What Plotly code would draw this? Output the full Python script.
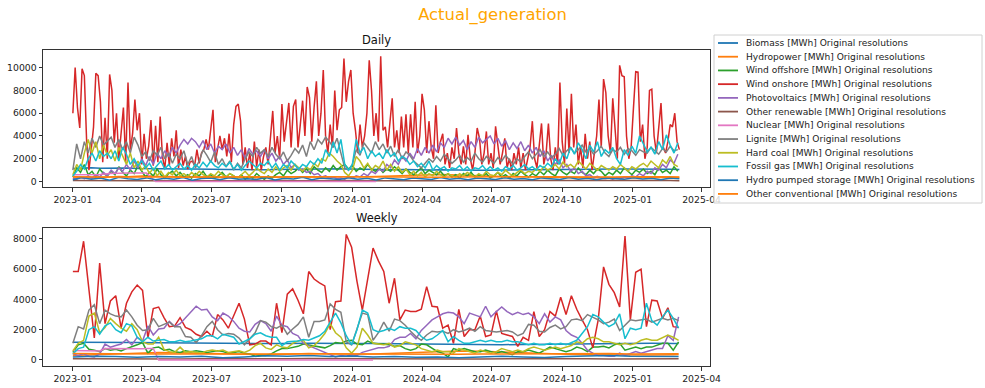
import pandas as pd
import plotly.graph_objects as go
from plotly.subplots import make_subplots

# ---------------- series names / colours ----------------
names = [
    "Biomass [MWh] Original resolutions",
    "Hydropower [MWh] Original resolutions",
    "Wind offshore [MWh] Original resolutions",
    "Wind onshore [MWh] Original resolutions",
    "Photovoltaics [MWh] Original resolutions",
    "Other renewable [MWh] Original resolutions",
    "Nuclear [MWh] Original resolutions",
    "Lignite [MWh] Original resolutions",
    "Hard coal [MWh] Original resolutions",
    "Fossil gas [MWh] Original resolutions",
    "Hydro pumped storage [MWh] Original resolutions",
    "Other conventional [MWh] Original resolutions",
]
colors = ["#1f77b4", "#ff7f0e", "#2ca02c", "#d62728", "#9467bd", "#8c564b",
          "#e377c2", "#7f7f7f", "#bcbd22", "#17becf", "#1f77b4", "#ff7f0e"]

tick_dates = ["2023-01-01", "2023-04-01", "2023-07-01", "2023-10-01", "2024-01-01",
              "2024-04-01", "2024-07-01", "2024-10-01", "2025-01-01", "2025-04-01"]

daily_dates = pd.date_range("2023-01-01", "2025-03-03", freq="D")
weekly_dates = pd.date_range("2023-01-01", periods=114, freq="7D")

# ---------------- DAILY values ----------------
# Wind onshore, every 3rd day
d_wind_on = [
    6000, 10000, 6500, 4700, 9900, 9300, 3500, 1000, 2800, 4800,
    9500, 9300, 7000, 1700, 5600, 2000, 9400, 8000, 3400, 6000,
    2000, 4000, 6500, 1700, 8700, 2800, 4200, 7200, 4500, 6000,
    1500, 4200, 2000, 3100, 5400, 1400, 4900, 1700, 5700, 2200,
    1100, 3400, 1400, 3800, 2200, 4500, 1200, 2800, 1400, 2200,
    1100, 1700, 1800, 1400, 2800, 1600, 2500, 2800, 3700, 2800,
    4800, 6300, 1700, 2800, 4000, 2800, 3800, 2200, 4200, 1700,
    5000, 6600, 6800, 5300, 1500, 3000, 1200, 2500, 1000, 3500,
    1300, 2800, 1000, 2200, 3000, 1500, 4000, 6200, 2500, 4000,
    2000, 6800, 3500, 5500, 6900, 3000, 6600, 7200, 3000, 5000,
    7100, 4000, 8300, 7400, 3500, 6500, 8800, 4000, 6000, 9800,
    4000, 2500, 5000, 3000, 8000, 4500, 6300, 6500, 10800, 7000,
    8800, 9800, 6000, 4500, 2500, 5000, 3000, 4000, 6000, 10650,
    8000, 4000, 6000, 3500, 11000, 4500, 4800, 3000, 5500, 7300,
    3000, 4500, 2500, 5700, 3000, 5900, 2500, 5900, 3000, 7000,
    2500, 4000, 7700, 6300, 2500, 5300, 3000, 2000, 6700, 2500,
    3500, 4200, 1500, 2500, 1200, 3000, 2000, 4700, 2500, 1500,
    3100, 1500, 4100, 2000, 1000, 2500, 4700, 3800, 1500, 2500,
    4400, 1500, 2500, 1200, 4850, 3400, 1500, 2500, 3800, 1200,
    2000, 1000, 2500, 1500, 3000, 1200, 2500, 1000, 2000, 3000,
    5300, 2000, 1200, 3000, 5100, 1500, 2500, 5100, 2000, 1000,
    3000, 1500, 8700, 3500, 1500, 6400, 2500, 7700, 3000, 5000,
    1500, 3000, 1200, 4200, 2000, 3500, 1000, 2500, 4000, 7200,
    3000, 9000, 7800, 4000, 2500, 7300, 4500, 2000, 10200, 9300,
    9200, 4000, 2000, 3000, 6400, 9650, 9600, 3500, 5000, 2000,
    3000, 8000, 8100, 4000, 2500, 4500, 6900, 3000, 2500, 3500,
    5000, 4800, 6000, 3500, 2800,
]
# every 5th day
d_pv = [
    300, 200, 400, 250, 500, 300, 600, 400, 800, 500,
    1000, 700, 1200, 900, 1500, 1000, 1800, 1200, 2000, 1400,
    2200, 1500, 2500, 2000, 2700, 2200, 3000, 2500, 3200, 3700,
    3300, 3800, 3500, 3000, 3600, 2800, 3300, 2500, 3100, 2800,
    3300, 2500, 3000, 2300, 2800, 2000, 2900, 2400, 2700, 2200,
    2800, 2000, 2500, 1800, 2200, 1500, 1900, 1200, 1500, 1000,
    1100, 800, 900, 600, 700, 400, 500, 300, 400, 250,
    300, 200, 400, 300, 500, 400, 700, 500, 900, 700,
    1100, 900, 1500, 1200, 1900, 1500, 2200, 1800, 2500, 2000,
    2900, 2300, 3000, 2500, 3200, 2600, 3400, 3000, 3800, 3300,
    3900, 3200, 3600, 2800, 3500, 3000, 3900, 3400, 3700, 4000,
    3300, 3800, 3100, 3600, 2800, 3400, 2900, 3500, 2700, 3200,
    2500, 3000, 2200, 2700, 1800, 2300, 1500, 1900, 1200, 1500,
    900, 1200, 700, 900, 500, 600, 350, 450, 300, 250,
    300, 200, 350, 250, 400, 300, 500, 400, 700, 500,
    900, 700, 1200, 1000, 1500, 1200, 1900, 1600, 2400,
]
d_lignite = [
    1000, 3300, 2000, 3500, 2500, 3800, 3000, 4000, 3200, 3600,
    3900, 3000, 3700, 2800, 3500, 2500, 3900, 3200, 2200, 2600,
    1800, 2700, 2300, 3000, 2000, 2500, 1600, 2400, 2000, 2700,
    1500, 2200, 1200, 1800, 2800, 2300, 1700, 2600, 1500, 2000,
    1300, 1800, 1000, 1600, 1200, 2000, 2600, 2200, 3000, 2500,
    2800, 2200, 3000, 2400, 2000, 2600, 1800, 2300, 2900, 2500,
    3200, 2200, 3500, 2800, 3700, 3300, 3900, 3500, 3000, 3800,
    2500, 1200, 1000, 1500, 2800, 2300, 3400, 3000, 2500, 3500,
    2800, 3300, 2500, 3100, 2200, 2800, 2000, 2600, 2300, 1800,
    1500, 1200, 1600, 2000, 1700, 2200, 1800, 2400, 2000, 1600,
    1900, 2300, 1700, 2100, 1800, 2500, 2000, 1700, 2200, 1900,
    1600, 2100, 1800, 2300, 1900, 1500, 2000, 1700, 2200, 2600,
    2000, 2400, 2800, 2200, 2600, 2100, 2400, 2900, 2300, 2700,
    3000, 2500, 2800, 3200, 2600, 2900, 2400, 2700, 3100, 2500,
    2200, 2800, 2600, 3000, 2400, 2900, 2700, 2300, 2800, 2600,
    2500, 3000, 2700, 2400, 2900, 2600, 3100, 2700, 2800,
]
d_gas = [
    500, 900, 1500, 1100, 2000, 2500, 1800, 2700, 2200, 2500,
    2000, 2700, 1800, 3000, 2400, 1500, 2000, 1400, 1800, 1200,
    1600, 1000, 1400, 1800, 1100, 1500, 1000, 1300, 1600, 1100,
    1400, 1000, 1500, 1200, 1700, 1300, 1800, 1400, 1200, 1600,
    1300, 1700, 1100, 1500, 1000, 1400, 1800, 1500, 1200, 1600,
    1400, 1800, 1200, 1600, 1000, 1500, 1200, 1800, 1400, 1100,
    1500, 1300, 1800, 1500, 2000, 1600, 2800, 2200, 3500, 2500,
    3700, 1500, 1000, 1500, 3700, 2500, 3000, 2000, 2700, 2200,
    2500, 2000, 2800, 2200, 2500, 1800, 2200, 2000, 1500, 1800,
    1300, 1600, 1200, 1800, 1000, 1400, 1100, 1300, 900, 1200,
    1100, 1400, 1000, 1300, 900, 1200, 1100, 1400, 1000, 1300,
    1000, 1200, 900, 1300, 1100, 1400, 1000, 1200, 1500, 1100,
    1300, 1000, 1400, 1200, 1600, 1300, 2000, 1500, 2500, 2000,
    3000, 2400, 3400, 2800, 2000, 3200, 2600, 3500, 2200, 2800,
    2500, 3000, 2000, 1500, 2800, 2300, 3100, 2500, 4000, 3300,
    2600, 3000, 2400, 3500, 2800, 4100, 3200, 2500, 3400,
]
d_coal = [
    600, 1500, 1000, 2500, 3700, 2500, 3500, 2000, 3200, 2300,
    2800, 1800, 3000, 2200, 1500, 2500, 1200, 1800, 1000, 1400,
    700, 1200, 500, 900, 400, 800, 600, 1000, 500, 700,
    400, 800, 500, 900, 600, 400, 700, 500, 900, 600,
    400, 700, 500, 300, 600, 900, 500, 800, 1200, 900,
    700, 1100, 800, 1300, 900, 1200, 1400, 1000, 1500, 1200,
    900, 1300, 1000, 1600, 1300, 2000, 1800, 2500, 2200, 1800,
    1500, 800, 500, 1000, 2200, 1800, 1200, 1600, 1000, 1400,
    1200, 1800, 1000, 1500, 900, 1300, 800, 1100, 600, 900,
    500, 800, 400, 700, 500, 900, 600, 400, 700, 500,
    400, 700, 500, 800, 600, 400, 700, 500, 900, 600,
    500, 800, 600, 1000, 700, 500, 800, 1000, 700, 900,
    800, 1100, 900, 1300, 1000, 1200, 1500, 1100, 1700, 1300,
    1500, 1200, 1800, 1400, 1100, 1600, 1300, 1000, 1400, 1200,
    1000, 1300, 1100, 1500, 1200, 900, 1300, 1100, 1400, 1600,
    1300, 1800, 1500, 1200, 1900, 1600, 2200, 1500, 1300,
]
d_wind_off = [
    400, 1200, 800, 1500, 600, 900, 400, 1100, 700, 500,
    900, 600, 1300, 800, 500, 1000, 700, 1400, 900, 400,
    800, 500, 1100, 600, 300, 700, 900, 500, 800, 400,
    600, 300, 700, 500, 900, 400, 600, 300, 500, 800,
    400, 700, 500, 300, 600, 200, 500, 300, 700, 400,
    200, 500, 300, 600, 800, 500, 1000, 700, 900, 1200,
    800, 1100, 700, 1300, 1000, 800, 1200, 900, 1400, 1000,
    1300, 1500, 1100, 1400, 900, 1200, 1000, 1500, 1100, 900,
    1200, 800, 1100, 900, 1300, 1000, 700, 1100, 800, 600,
    900, 1200, 700, 1000, 800, 600, 900, 500, 700, 400,
    600, 300, 700, 500, 800, 400, 600, 500, 700, 300,
    500, 800, 400, 600, 300, 700, 500, 900, 600, 400,
    700, 500, 900, 600, 1000, 700, 500, 1100, 800, 600,
    900, 700, 1200, 800, 600, 1000, 700, 1100, 900, 500,
    800, 600, 1000, 700, 1200, 900, 600, 1000, 800, 1100,
    700, 900, 600, 1200, 800, 1000, 700, 1300, 900,
]
# every 12th day
d_biomass = [
    1150, 1180, 1200, 1170, 1190, 1160, 1180, 1150, 1130, 1150,
    1120, 1100, 1090, 1110, 1080, 1060, 1070, 1050, 1060, 1040,
    1050, 1030, 1060, 1040, 1070, 1080, 1100, 1090, 1110, 1120,
    1100, 1080, 1060, 1070, 1050, 1040, 1060, 1030, 1040, 1020,
    1030, 1010, 1000, 1020, 990, 1000, 1010, 990, 1020, 1030,
    1050, 1060, 1080, 1100, 1110, 1090, 1100, 1120, 1110, 1100,
    1090, 1100, 1080, 1090, 1070, 1080, 1060,
]
d_hydro = [
    300, 350, 320, 380, 400, 450, 420, 480, 500, 460,
    440, 420, 400, 380, 360, 380, 350, 370, 340, 360,
    330, 350, 380, 400, 420, 380, 400, 420, 450, 430,
    410, 400, 420, 450, 480, 500, 520, 560, 600, 580,
    620, 600, 560, 540, 500, 480, 460, 440, 420, 400,
    380, 360, 340, 330, 320, 340, 330, 320, 340, 350,
    330, 340, 350, 360, 340, 350, 360,
]
d_other_ren = [
    80, 70, 90, 70, 60, 80, 70, 60, 70, 80,
    70, 60, 70, 80, 70, 60, 70, 80, 90, 80,
    70, 80, 90, 80, 70, 80, 90, 100, 90, 80,
    90, 80, 70, 80, 70, 60, 70, 60, 70, 60,
    70, 60, 70, 60, 70, 80, 70, 80, 90, 80,
    90, 80, 90, 100, 90, 80, 90, 80, 90, 80,
    90, 80, 70, 80, 90, 80, 70,
]
d_nuclear = [
    600, 620, 600, 610, 700, 750, 760, 750, 740, 0,
    0, 0, 0, 0, 0, 0, 0, 0, 0, 0,
    0, 0, 0, 0, 0, 0, 0, 0, 0, 0,
    0, 0, 0, 0,
]
d_pumped = [
    150, 350, 200, 300, 120, 380, 250, 180, 320, 150,
    280, 200, 350, 120, 260, 300, 150, 330, 200, 250,
    180, 350, 130, 280, 220, 380, 160, 300, 250, 170,
    340, 200, 280, 140, 320, 220, 150, 300, 260, 180,
    350, 200, 280, 150, 300, 230, 170, 330, 210, 260,
    150, 320, 240, 180, 360, 210, 280, 160, 300, 230,
    190, 340, 220, 280, 150, 310, 240,
]
d_other_conv = [
    420, 400, 430, 410, 390, 400, 380, 400, 410, 390,
    400, 410, 380, 390, 400, 420, 410, 400, 390, 400,
    410, 420, 400, 430, 410, 420, 430, 410, 400, 420,
    430, 410, 400, 390, 380, 400, 390, 380, 400, 390,
    380, 390, 400, 380, 390, 400, 410, 400, 420, 410,
    430, 420, 410, 400, 420, 410, 400, 420, 410, 400,
    410, 420, 400, 410, 420, 410, 400,
]

# ---------------- WEEKLY values ----------------
w_wind_on = [
    5850, 5850, 7850, 4500, 1450, 6400, 2400, 3900, 4250, 2100,
    3750, 4500, 4950, 4600, 1450, 3400, 3500, 2800, 2200, 2250,
    2800, 2150, 2000, 1700, 1550, 1900, 1550, 3000, 2650, 2100,
    2950, 3750, 2700, 1000, 1050, 1250, 1250, 1000, 3750, 1800,
    4350, 4700, 3950, 3050, 5850, 5350, 5100, 4900, 2000, 3850,
    3900, 8300, 7450, 5200, 3300, 5400, 7400, 6550, 5850, 3750,
    5400, 2650, 3300, 3200, 3200, 3350, 4850, 3550, 3500, 2100,
    2300, 1100, 3350, 1550, 2000, 2000, 2900, 1550, 1650, 3250,
    1750, 1650, 1550, 900, 1500, 1300, 3200, 1550, 2000, 3200,
    2900, 4150, 3000, 4250, 3350, 2650, 2000, 800, 2650, 6150,
    5000, 4450, 3500, 8200, 2650, 5800, 6000, 2200, 3950, 3900,
    2750, 3450, 2200, 2150,
]
w_lignite = [
    1100, 2200, 2050, 3300, 3650, 2400, 3300, 3050, 2900, 2850,
    3300, 2850, 2300, 1950, 2000, 2750, 2200, 2350, 2500, 2200,
    2200, 1550, 1500, 1150, 1600, 2200, 2550, 2000, 1650, 1750,
    1700, 1450, 1000, 1400, 1800, 2600, 2500, 2200, 2100, 2300,
    1700, 2050, 2350, 2850, 1500, 2550, 2550, 2650, 3700, 3350,
    3150, 1200, 1000, 2050, 3100, 3000, 1300, 1800, 2500, 1900,
    2700, 2600, 2300, 1900, 1550, 1300, 1650, 1900, 1850, 1900,
    1750, 2000, 1850, 1950, 2100, 1900, 2200, 1950, 1900, 1850,
    1900, 1950, 1850, 1600, 1750, 2350, 2300, 1900, 1850, 2150,
    2300, 2050, 2200, 2650, 2700, 2600, 3000, 2850, 2650, 2400,
    2500, 2700, 1950, 2300, 2650, 2600, 2650, 2700, 2500, 2600,
    2750, 2650, 2750, 2600,
]
w_gas = [
    400, 750, 850, 2000, 2200, 1700, 2250, 2450, 2000, 1800,
    2400, 2250, 1500, 1200, 1500, 1250, 1300, 1350, 1200, 1200,
    1300, 1200, 1250, 1350, 1400, 1600, 1600, 1400, 1700, 1600,
    1500, 1050, 1200, 1400, 1700, 1800, 1600, 1500, 1500, 950,
    1200, 1250, 1250, 1350, 1300, 1450, 1600, 1900, 2500, 3100,
    2450, 1600, 1000, 2000, 3300, 3100, 2000, 1850, 1950, 2100,
    1950, 2200, 2100, 2100, 1950, 1550, 1300, 1400, 1650, 1950,
    1200, 1550, 1300, 1100, 1100, 1200, 1300, 1200, 1300, 1200,
    1200, 1300, 1200, 1200, 1100, 1000, 1100, 1000, 1000, 1100,
    1000, 1100, 1000, 1150, 1300, 1750, 2200, 3000, 2850, 2500,
    2200, 2400, 3050, 1400, 2100, 2000, 2100, 3750, 2600, 2300,
    2850, 3300, 2750, 2100,
]
w_pv = [
    400, 300, 400, 250, 200, 400, 1050, 850, 950, 1050,
    1350, 1000, 1500, 1250, 2250, 1650, 2050, 2100, 2550, 2200,
    2400, 2800, 3150, 3550, 3300, 3350, 2850, 2600, 3100, 2900,
    2550, 2100, 1900, 1850, 2350, 2600, 2400, 1900, 2900, 2300,
    2200, 1750, 1600, 1100, 950, 800, 650, 500, 300, 200,
    300, 250, 350, 300, 500, 600, 700, 800, 800, 900,
    1350, 1500, 1500, 1750, 1400, 1950, 2300, 2650, 2850, 3050,
    3150, 3100, 2850, 2400, 3100, 3000, 2850, 3550, 2850, 3200,
    3500, 3200, 3000, 3150, 3000, 3100, 2850, 2400, 3050, 2500,
    2850, 2650, 1950, 1650, 1500, 1100, 650, 450, 300, 300,
    250, 250, 450, 300, 450, 550, 450, 550, 650, 750,
    750, 1600, 1300, 2850,
]
w_coal = [
    600, 1100, 1300, 2900, 3100, 1800, 2150, 2750, 2400, 2100,
    1900, 2400, 2000, 1200, 1050, 1050, 1500, 700, 550, 500,
    850, 500, 550, 500, 450, 600, 650, 600, 650, 500,
    550, 600, 500, 650, 950, 1100, 800, 700, 1000, 850,
    800, 1100, 1250, 1300, 800, 950, 1300, 1750, 2400, 1800,
    1500, 800, 450, 850, 2100, 1650, 1100, 1050, 1000, 1100,
    850, 950, 1200, 1100, 1000, 750, 650, 550, 650, 550,
    550, 450, 750, 650, 550, 450, 650, 550, 450, 550,
    750, 650, 550, 650, 550, 750, 850, 750, 650, 750,
    850, 750, 850, 950, 1200, 1100, 1400, 1500, 1400, 1200,
    1200, 1100, 1000, 1100, 1000, 1100, 1300, 1400, 1300, 1300,
    1500, 1650, 1500, 1300,
]
w_wind_off = [
    500, 1000, 1100, 700, 650, 550, 750, 650, 700, 600,
    750, 850, 1000, 1150, 450, 800, 850, 650, 700, 550,
    500, 600, 550, 600, 550, 500, 550, 600, 550, 450,
    500, 550, 450, 400, 250, 300, 300, 400, 600, 750,
    750, 800, 900, 1050, 1000, 950, 900, 800, 950, 1150,
    1100, 1250, 1300, 1050, 1000, 1250, 1100, 1050, 1000, 1000,
    900, 950, 750, 650, 750, 1050, 1000, 750, 550, 450,
    200, 750, 650, 750, 650, 550, 550, 650, 550, 450,
    550, 450, 350, 550, 550, 650, 550, 450, 650, 850,
    750, 650, 550, 650, 850, 750, 550, 850, 850, 900,
    800, 1000, 1100, 650, 750, 850, 750, 850, 850, 1000,
    1100, 1100, 650, 1200,
]
# flat series: read every 4th week (+ last week)
sparse_week_idx = list(range(0, 113, 4)) + [113]
w_biomass = [1170, 1180, 1170, 1150, 1130, 1120, 1100, 1080, 1070, 1060,
             1080, 1100, 1110, 1090, 1080, 1060, 1050, 1040, 1030, 1020,
             1010, 1020, 1040, 1060, 1080, 1100, 1110, 1100, 1090, 1080]
w_hydro = [300, 350, 400, 450, 500, 480, 450, 400, 380, 350,
           380, 420, 400, 380, 400, 450, 500, 550, 600, 580,
           520, 480, 420, 380, 350, 330, 320, 330, 350, 360]
w_other_ren = [80, 70, 80, 70, 60, 70, 80, 70, 60, 70,
               80, 90, 80, 70, 80, 70, 60, 70, 60, 70,
               80, 70, 80, 90, 80, 70, 80, 90, 80, 80]
w_pumped = [200, 250, 220, 180, 230, 200, 250, 150, 200, 280,
            250, 300, 220, 260, 200, 230, 180, 200, 150, 180,
            250, 200, 170, 230, 260, 300, 250, 220, 200, 230]
w_other_conv = [420, 400, 410, 400, 390, 400, 380, 390, 400, 410,
                420, 400, 410, 400, 390, 380, 400, 390, 380, 390,
                400, 410, 420, 400, 410, 420, 400, 410, 400, 410]
nuclear_week_idx = list(range(0, 16)) + list(range(16, 57, 4))
w_nuclear = [620, 620, 600, 610, 620, 600, 760, 750, 760, 750,
             740, 760, 750, 740, 760, 760, 0, 0, 0, 0,
             0, 0, 0, 0, 0, 0, 0]

# (values, step in days) for the daily panel, in legend order
daily_series = [
    (d_biomass, 12), (d_hydro, 12), (d_wind_off, 5), (d_wind_on, 3),
    (d_pv, 5), (d_other_ren, 12), (d_nuclear, 12), (d_lignite, 5),
    (d_coal, 5), (d_gas, 5), (d_pumped, 12), (d_other_conv, 12),
]
# (values, week indices) for the weekly panel
full_idx = list(range(114))
weekly_series = [
    (w_biomass, sparse_week_idx), (w_hydro, sparse_week_idx), (w_wind_off, full_idx),
    (w_wind_on, full_idx), (w_pv, full_idx), (w_other_ren, sparse_week_idx),
    (w_nuclear, nuclear_week_idx), (w_lignite, full_idx), (w_coal, full_idx),
    (w_gas, full_idx), (w_pumped, sparse_week_idx), (w_other_conv, sparse_week_idx),
]

FONT = "DejaVu Sans"
W, H = 985, 388
ML, MR, MT, MB = 43, 275, 50, 22
PW, PH = W - ML - MR, H - MT - MB

def px_to_paper(x, y):
    return (x - ML) / PW, (H - MB - y) / PH

fig = make_subplots(rows=2, cols=1)

for k, name in enumerate(names):
    vals, step = daily_series[k]
    xs = daily_dates[::step][:len(vals)]
    fig.add_trace(go.Scatter(x=xs, y=vals, mode="lines", name=name, showlegend=False,
                             line=dict(color=colors[k], width=1.5)), row=1, col=1)
for k, name in enumerate(names):
    vals, idx = weekly_series[k]
    xs = weekly_dates[idx][:len(vals)]
    fig.add_trace(go.Scatter(x=xs, y=vals, mode="lines", name=name, showlegend=False,
                             line=dict(color=colors[k], width=1.5)), row=2, col=1)

top_dom = [(H - MB - 187) / PH, 1.0]
bot_dom = [0.0, (H - MB - 228) / PH]

axis_common = dict(showline=True, mirror=True, linecolor="#333", linewidth=1,
                   ticks="outside", ticklen=3.5, tickwidth=1, tickcolor="#333",
                   showgrid=False, zeroline=False, automargin=False,
                   tickfont=dict(family=FONT, size=9.3, color="#222"))
xr = ["2022-11-23", "2025-04-12"]
fig.update_xaxes(range=xr, tickvals=tick_dates, tickformat="%Y-%m", **axis_common)
fig.update_yaxes(tickformat="d", **axis_common)
fig.update_layout(
    xaxis=dict(domain=[0, 1]), xaxis2=dict(domain=[0, 1]),
    yaxis=dict(domain=top_dom, range=[-480, 11550], tickvals=[0, 2000, 4000, 6000, 8000, 10000]),
    yaxis2=dict(domain=bot_dom, range=[-400, 8725], tickvals=[0, 2000, 4000, 6000, 8000]),
)

annotations = []
shapes = []
# subplot titles
for txt, py in (("Daily", 40), ("Weekly", 218)):
    annotations.append(dict(text=txt, x=0.5, y=px_to_paper(0, py)[1], xref="paper", yref="paper",
                            showarrow=False, xanchor="center", yanchor="middle",
                            font=dict(family=FONT, size=11.5, color="#111")))

# legend box (matplotlib style)
bx0, by0 = px_to_paper(714, 203)
bx1, by1 = px_to_paper(982, 35)
shapes.append(dict(type="rect", xref="paper", yref="paper", x0=bx0, y0=by0, x1=bx1, y1=by1,
                   line=dict(color="#d0d0d0", width=1), fillcolor="rgba(255,255,255,0.8)",
                   layer="above"))
for k, name in enumerate(names):
    py = 43 + 13.72 * k
    lx0, ly = px_to_paper(718, py)
    lx1, _ = px_to_paper(738, py)
    tx, _ = px_to_paper(744, py)
    shapes.append(dict(type="line", xref="paper", yref="paper", x0=lx0, x1=lx1, y0=ly, y1=ly,
                       line=dict(color=colors[k], width=1.8), layer="above"))
    annotations.append(dict(text=name, x=tx, y=ly, xref="paper", yref="paper", showarrow=False,
                            xanchor="left", yanchor="middle",
                            font=dict(family=FONT, size=9.1, color="#222")))

fig.update_layout(
    width=W, height=H, autosize=False,
    margin=dict(l=ML, r=MR, t=MT, b=MB, pad=0, autoexpand=False),
    paper_bgcolor="white", plot_bgcolor="white",
    showlegend=False,
    title=dict(text="Actual_generation", x=0.5, xref="container", xanchor="center",
               y=1 - 14 / H, yref="container", yanchor="middle",
               font=dict(family=FONT, size=16.4, color="#FFA500")),
    annotations=annotations,
    shapes=shapes,
    font=dict(family=FONT),
)

fig.write_html("out.html", config={"displayModeBar": False},
               post_script="document.body.style.margin='0';")
